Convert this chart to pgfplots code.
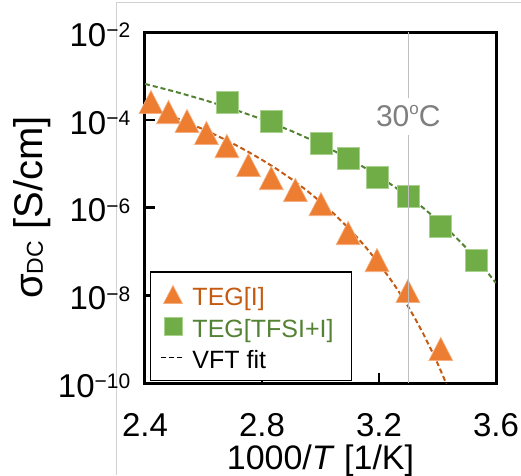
\documentclass[border=0pt]{standalone}
\usepackage{pgfplots}
\pgfplotsset{compat=1.18}
\usepackage{fontspec}
\setmainfont{Liberation Sans}

\definecolor{tegI}{HTML}{ED7D31}
\definecolor{tegIdark}{HTML}{C55A11}
\definecolor{tegIlight}{HTML}{F4B183}
\definecolor{tegT}{HTML}{70AD47}
\definecolor{tegTdark}{HTML}{548235}
\definecolor{tegTlight}{HTML}{A9D18E}
\definecolor{refline}{HTML}{BFBFBF}
\definecolor{labelgray}{HTML}{7F7F7F}

% 10^{-n} set in the text font
\newcommand{\tp}[1]{10\raisebox{8.5pt}{\fontsize{21}{21}\selectfont #1}}
\newcommand{\lstrut}{\rule[-7pt]{0pt}{31pt}}

\begin{document}
\begin{tikzpicture}
\path[use as bounding box] (-145pt,-92pt) rectangle (376pt,383pt);
\draw[gray!35, line width=0.8pt] (-29pt,-92pt) -- (-29pt,380.5pt) -- (376pt,380.5pt);
\begin{axis}[
    scale only axis,
    width=351pt, height=351pt,
    at={(0pt,0pt)}, anchor=south west,
    xmin=2.4, xmax=3.6,
    ymode=log, ymin=1e-10, ymax=1e-2,
    xtick={2.4,2.8,3.2,3.6},
    xticklabels={2.4,2.8,3.2,3.6},
    ytick={1e-10,1e-8,1e-6,1e-4,1e-2},
    yticklabels={\tp{−10},\tp{−8},\tp{−6},\tp{−4},\tp{−2}},
    yminorticks=false,
    tick align=inside,
    xtick pos=bottom, ytick pos=left,
    major tick length=10pt,
    tick style={line width=2.5pt, black},
    axis line style={line width=3pt},
    clip mode=individual,
    /pgf/number format/assume math mode=true,
    tick label style={font=\fontsize{33}{40}\selectfont},
    xticklabel style={anchor=north, inner sep=0pt, yshift=-30pt},
    yticklabel style={anchor=east, inner sep=0pt, xshift=-14.5pt, yshift=-3pt},
    xlabel={1000/\textit{T} [1/K]},
    xlabel style={at={(axis description cs:0.5,-0.245)}, anchor=base,
        font=\fontsize{34}{40}\selectfont},
    ylabel={σ{\fontsize{23}{23}\selectfont DC} [S/cm]},
    ylabel style={at={(axis description cs:-0.2906,0.5)}, anchor=base,
        font=\fontsize{40}{46}\selectfont},
    legend cell align=left,
    legend style={at={(axis description cs:0.0142,0.0057)}, anchor=south west,
        draw=black, line width=1.5pt, inner xsep=10pt, inner ysep=10pt,
        font=\fontsize{25}{30}\selectfont, nodes={inner sep=0pt}, row sep=6pt,
        /tikz/every odd column/.append style={column sep=8pt}},
]
% VFT fits
\addplot[tegIdark, line width=2pt, dash pattern=on 5pt off 3pt, forget plot]
coordinates {(2.40,2.01e-4) (2.45,1.53e-4) (2.50,1.15e-4) (2.55,8.39e-5)
    (2.60,6.03e-5) (2.65,4.22e-5) (2.70,2.88e-5) (2.75,1.91e-5) (2.80,1.22e-5)
    (2.85,7.57e-6) (2.90,4.48e-6) (2.95,2.53e-6) (3.00,1.35e-6) (3.05,6.81e-7)
    (3.10,3.18e-7) (3.15,1.36e-7) (3.20,5.30e-8) (3.25,1.83e-8) (3.275,1.02e-8)
    (3.30,5.48e-9) (3.325,2.82e-9) (3.35,1.38e-9) (3.38,5.48e-10) (3.40,2.82e-10)
    (3.42,1.39e-10) (3.43,9.62e-11)};
\addplot[tegTdark, line width=2pt, dash pattern=on 5pt off 3pt, forget plot]
coordinates {(2.40,6.55e-4) (2.50,4.42e-4) (2.60,2.86e-4) (2.70,1.76e-4)
    (2.80,1.03e-4) (2.90,5.58e-5) (3.00,2.81e-5) (3.10,1.28e-5) (3.20,5.18e-6)
    (3.30,1.80e-6) (3.35,9.95e-7) (3.40,5.20e-7) (3.45,2.55e-7) (3.50,1.17e-7)
    (3.55,4.94e-8) (3.60,1.90e-8)};
% data
\addplot[only marks, mark=triangle*, mark size=13.9pt,
    mark options={fill=tegI, draw=tegIlight, line width=0.6pt, yshift=-3.9pt, yscale=1.12},
    legend image code/.code={\path[draw=none] (0pt,-10pt) rectangle (23pt,10pt);
        \draw[mark size=11pt, mark options={fill=tegI, draw=tegIlight, line width=0.6pt,
            yshift=-3pt, yscale=1.1}] plot coordinates {(11.5pt,0pt)};}]
coordinates {(2.4204,2.54e-4) (2.4804,1.50e-4) (2.5436,9.38e-5) (2.6100,4.99e-5)
    (2.6799,2.52e-5) (2.7537,9.31e-6) (2.8317,4.70e-6) (2.9142,2.51e-6)
    (3.0017,1.20e-6) (3.0945,2.62e-7) (3.1932,6.35e-8) (3.2987,1.25e-8)
    (3.4112,5.96e-10)};
\addlegendentry{\lstrut\textcolor{tegIdark}{TEG[I]}}
\addplot[only marks, mark=square*, mark size=11pt,
    mark options={fill=tegT, draw=tegTlight, line width=0.6pt},
    legend image code/.code={\path[draw=none] (0pt,-10pt) rectangle (23pt,10pt);
        \draw[mark size=9pt, mark options={fill=tegT, draw=tegTlight, line width=0.6pt}]
            plot coordinates {(11.5pt,0pt)};}]
coordinates {(2.6799,2.54e-4) (2.8317,9.38e-5) (3.0017,2.95e-5) (3.0945,1.34e-5)
    (3.1932,4.95e-6) (3.2987,1.83e-6) (3.4112,3.78e-7) (3.5317,6.35e-8)};
\addlegendentry{\lstrut\textcolor{tegTdark}{TEG[TFSI+I]}\hspace*{8pt}}
\addlegendimage{legend image code/.code={\path[draw=none] (0pt,-10pt) rectangle (23pt,10pt);
    \draw[black, line width=1.5pt, dash pattern=on 5pt off 3pt] (0pt,0pt) -- (22pt,0pt);}}
\addlegendentry{\lstrut VFT fit}
% 30 C reference line
\addplot[refline, line width=1.5pt, forget plot] coordinates {(3.3,1e-10) (3.3,1e-2)};
\node[anchor=base, fill=white, inner xsep=1pt, inner ysep=8pt, text=labelgray,
    font=\fontsize{30}{36}\selectfont] at (axis cs:3.3,6.95e-5)
    {30\raisebox{11.7pt}{\fontsize{17}{17}\selectfont o}C};
\end{axis}
\end{tikzpicture}
\end{document}
